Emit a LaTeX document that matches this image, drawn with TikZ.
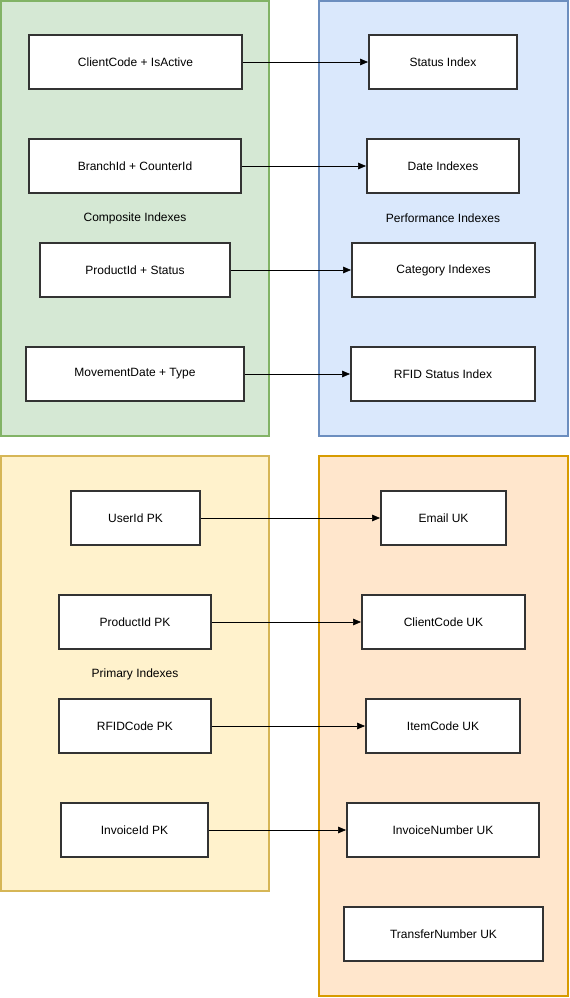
\documentclass[tikz,border=0pt]{standalone}
\usepackage{fontspec}
\setmainfont{Liberation Sans}
\usetikzlibrary{arrows.meta}
\definecolor{compfill}{HTML}{D5E8D4}
\definecolor{compline}{HTML}{82B366}
\definecolor{perffill}{HTML}{DAE8FC}
\definecolor{perfline}{HTML}{6C8EBF}
\definecolor{primfill}{HTML}{FFF2CC}
\definecolor{primline}{HTML}{D6B656}
\definecolor{uniqfill}{HTML}{FFE6CC}
\definecolor{uniqline}{HTML}{D79B00}
\definecolor{boxline}{HTML}{333333}
\tikzset{
  idx/.style={draw=boxline, line width=1.5pt, fill=white, minimum height=40.5pt, inner sep=0pt, font=\fontsize{9}{11}\selectfont},
  group/.style={line width=1.5pt},
  grouplabel/.style={font=\fontsize{9}{11}\selectfont}
}
\begin{document}
\begin{tikzpicture}[x=0.75pt, y=-0.75pt, >={Triangle[length=6pt,width=5pt]}]
            \useasboundingbox (0,0) rectangle (570,998);

            % Groups
            \draw[group, draw=compline, fill=compfill] (1,1) rectangle (269,436);
            \draw[group, draw=perfline, fill=perffill] (319,1) rectangle (568,436);
            \draw[group, draw=primline, fill=primfill] (1,456) rectangle (269,891);
            \draw[group, draw=uniqline, fill=uniqfill] (319,456) rectangle (568,996);
            \node[grouplabel] at (135,218) (comp) {Composite Indexes};
            \node[grouplabel] at (443,218) (perf) {Performance Indexes};
            \node[grouplabel] at (135,674) (prim) {Primary Indexes};

            % Nodes
            \node[idx, minimum width=159.75pt] at (135.5,62) (cc) {ClientCode + IsActive};
            \node[idx, minimum width=159pt] at (135,166) (bc) {BranchId + CounterId};
            \node[idx, minimum width=142.5pt] at (135,270) (ps) {ProductId + Status};
            \node[idx, minimum width=163.5pt] at (135,374) (mt) {MovementDate + Type};
            \node[idx, minimum width=111pt] at (443,62) (si) {Status Index};
            \node[idx, minimum width=114pt] at (443,166) (di) {Date Indexes};
            \node[idx, minimum width=137.25pt] at (443.5,270) (ci) {Category Indexes};
            \node[idx, minimum width=138pt] at (443,374) (rs) {RFID Status Index};
            \node[idx, minimum width=96.75pt] at (135.5,518) (up) {UserId PK};
            \node[idx, minimum width=114pt] at (135,622) (pp) {ProductId PK};
            \node[idx, minimum width=114pt] at (135,726) (rp) {RFIDCode PK};
            \node[idx, minimum width=110.25pt] at (134.5,830) (ip) {InvoiceId PK};
            \node[idx, minimum width=93.75pt] at (443.5,518) (eu) {Email UK};
            \node[idx, minimum width=122.25pt] at (443.5,622) (cu) {ClientCode UK};
            \node[idx, minimum width=115.5pt] at (443,726) (iu) {ItemCode UK};
            \node[idx, minimum width=144pt] at (443,830) (nu) {InvoiceNumber UK};
            \node[idx, minimum width=149.25pt] at (443.5,934) (tu) {TransferNumber UK};

            % Edges
            \draw[->] (cc) -- (si);
            \draw[->] (bc) -- (di);
            \draw[->] (ps) -- (ci);
            \draw[->] (mt) -- (rs);
            \draw[->] (up) -- (eu);
            \draw[->] (pp) -- (cu);
            \draw[->] (rp) -- (iu);
            \draw[->] (ip) -- (nu);
        \end{tikzpicture}
\end{document}
